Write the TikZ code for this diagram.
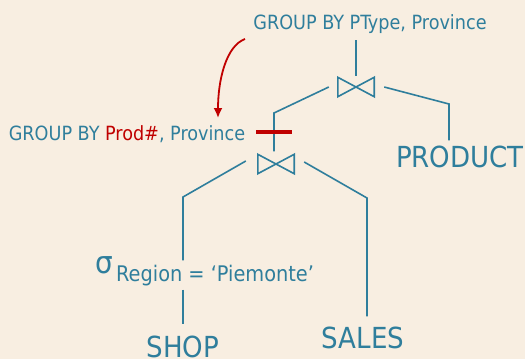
\documentclass[tikz,border=0pt]{standalone}
\usepackage{fontspec}
\setmainfont{DejaVu Sans Condensed}
\usetikzlibrary{arrows.meta}
\definecolor{paper}{HTML}{F8EEE1}
\definecolor{tealblue}{HTML}{2F7E9C}
\definecolor{darkred}{HTML}{C00000}
\tikzset{
    tree/.style={draw=tealblue, line width=1.6pt},
    joinbox/.style={minimum width=36pt, minimum height=19pt, inner sep=0pt},
    small/.style={text=tealblue, font=\fontsize{19.6}{22}\selectfont, inner sep=0pt},
    big/.style={text=tealblue, font=\fontsize{29}{32}\selectfont, inner sep=0pt}
}
\begin{document}
\begin{tikzpicture}[x=1pt,y=-1pt]
    \fill[paper] (0,0) rectangle (525,359);
    \useasboundingbox (0,0) rectangle (525,359);
    % operators
    \node[small, anchor=base] (gbtop) at (370,29) {GROUP BY PType, Province};
    \node[small, anchor=base] (gbleft) at (127,140) {GROUP BY \textcolor{darkred}{Prod\#}, Province};
    \node[joinbox] (topjoin) at (356,87) {};
    \node[joinbox] (lowjoin) at (276,164) {};
    \node[text=tealblue, anchor=base west, inner sep=0pt, font=\fontsize{31}{32}\selectfont] (sigma) at (95,273) {σ};
    \node[small, anchor=base west, inner sep=4pt, font=\fontsize{21.5}{24}\selectfont] (cond) at (112,281) {Region = ‘Piemonte’};
    % relations
    \node[big, anchor=base] (product) at (460,167) {PRODUCT};
    \node[big, anchor=base] (sales) at (363,348) {SALES};
    \node[big, anchor=base] (shop) at (183,357) {SHOP};
    % bends of the tree
    \coordinate (e1) at (274,113);
    \coordinate (e2) at (449,104);
    \coordinate (e3) at (183,197);
    \coordinate (e4) at (367,198);
    \coordinate (cut) at (274,132);
    \coordinate (arrstart) at (245,39);
    \coordinate (arrend) at (218,118);

    \foreach \j in {topjoin,lowjoin}
        \draw[tree, line join=miter] (\j.north west) -- (\j.south east) -- (\j.north east) -- (\j.south west) -- cycle;

    \draw[tree, shorten <=7pt, shorten >=1pt] (gbtop.south -| topjoin) -- (topjoin.north);
    \draw[tree] ([xshift=-9pt]topjoin.west) -- (e1) -- ([yshift=3pt]lowjoin.north -| e1);
    \draw[tree] ([xshift=10pt]topjoin.east) -- (e2) -- ([yshift=5pt]product.north -| e2);
    \draw[tree] ([shift={(-12pt,3pt)}]lowjoin.west) -- (e3) -- (cond.north -| e3);
    \draw[tree] ([shift={(10pt,2pt)}]lowjoin.east) -- (e4) -- ([yshift=10pt]sales.north -| e4);
    \draw[tree] (cond.south -| shop) -- ([yshift=11pt]shop.north);

    \draw[darkred, line width=3.5pt] ([xshift=-18pt]cut) -- ([xshift=18pt]cut);
    \draw[darkred, line width=1.8pt, -{Latex[length=10pt,width=9pt]}] (arrstart) .. controls (226,46) and (218,80) .. (arrend);
\end{tikzpicture}
\end{document}
